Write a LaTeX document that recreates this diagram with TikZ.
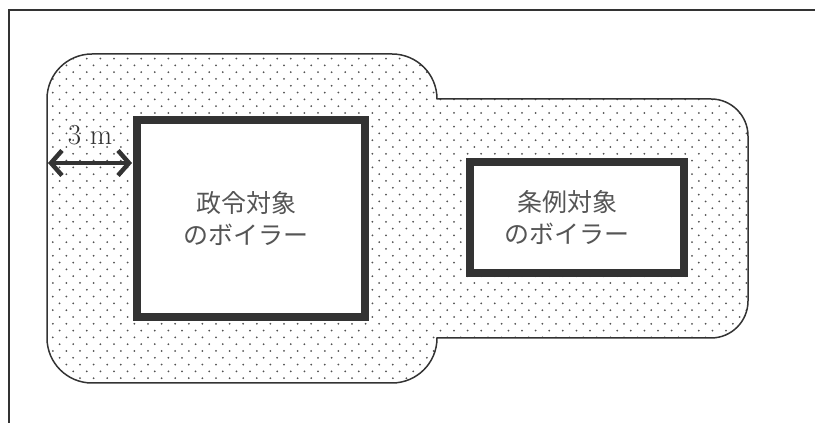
\documentclass[tikz,border=0pt]{standalone}
\usepackage{fontspec}
\newfontfamily\jp{Noto Sans CJK JP}
\usetikzlibrary{arrows.meta}
\definecolor{ink}{HTML}{333333}
\definecolor{txt}{HTML}{555555}
\tikzset{
  frameline/.style={draw=ink, line width=2pt},
  zone/.style={draw=ink, line width=1.5pt},
  dotmark/.style={fill=ink!85},
  boiler/.style={draw=ink, fill=white, line width=8pt, inner sep=0pt},
  lbl/.style={text=txt, font=\jp\fontsize{25}{32}\selectfont, align=center, inner sep=0pt},
  dimlabel/.style={text=ink, font=\fontsize{29}{30}\selectfont, inner sep=0pt},
  dimarrow/.style={draw=ink, line width=4.5pt, {Straight Barb[length=11pt,width=25pt]}-{Straight Barb[length=11pt,width=25pt]}}
}
\begin{document}
\begin{tikzpicture}[x=1pt,y=1pt]
\useasboundingbox (0,0) rectangle (815,423);
% outer frame (top and left lines)
\coordinate (fTL) at (9,413);
\coordinate (fTR) at (815,413);
\coordinate (fBL) at (9,0);
\draw[frameline] (fTR) -- (fTL) -- (fBL);
% dotted zone (union of two rounded rectangles)
\def\zonepath{(92,369) -- (392,369) arc[start angle=90,end angle=0,radius=45]
  -- (711,324) arc[start angle=90,end angle=0,radius=37]
  -- (748,122) arc[start angle=0,end angle=-90,radius=37]
  -- (437,85) arc[start angle=0,end angle=-90,radius=45]
  -- (92,40) arc[start angle=270,end angle=180,radius=45]
  -- (47,324) arc[start angle=180,end angle=90,radius=45] -- cycle}
\begin{scope}
  \clip \zonepath;
  \foreach \j in {0,...,49}{
    \pgfmathsetmacro{\yy}{38+6.8*\j}
    \pgfmathsetmacro{\off}{mod(\j,2)*6.8}
    \foreach \i in {0,...,52}{
      \fill[dotmark] (46+\off+13.6*\i,\yy) circle[radius=1];
    }
  }
\end{scope}
\draw[zone] \zonepath;
% boilers
\node[boiler, minimum width=228pt, minimum height=197pt] (box1) at (251,204.5) {};
\node[boiler, minimum width=214pt, minimum height=111pt] (box2) at (577,205.5) {};
\node[lbl] (t1) at ([xshift=-5pt]box1.center) {政令対象\\のボイラー};
\node[lbl] (t2) at ([xshift=-10pt]box2.center) {条例対象\\のボイラー};
% 3 m dimension
\coordinate (aL) at (48,260);
\coordinate (aR) at (132,260);
\draw[dimarrow] (aL) -- (aR);
\node[dimlabel] (dim) at (90,288) {3 m};
\end{tikzpicture}
\end{document}
